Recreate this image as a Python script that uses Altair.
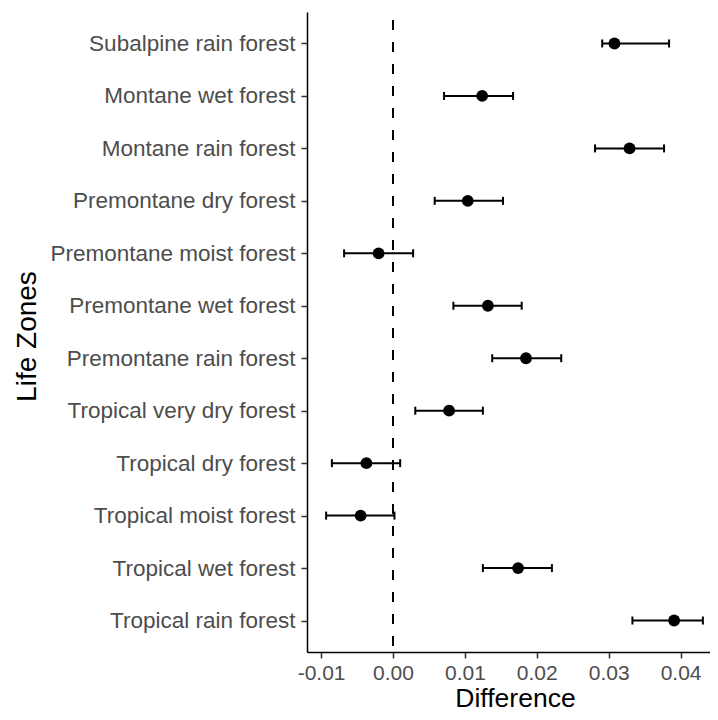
import altair as alt
import pandas as pd

zones = [
    "Subalpine rain forest",
    "Montane wet forest",
    "Montane rain forest",
    "Premontane dry forest",
    "Premontane moist forest",
    "Premontane wet forest",
    "Premontane rain forest",
    "Tropical very dry forest",
    "Tropical dry forest",
    "Tropical moist forest",
    "Tropical wet forest",
    "Tropical rain forest",
]
diff = [0.0308, 0.0124, 0.0329, 0.0104, -0.0020, 0.0132, 0.0185, 0.0078, -0.0037, -0.0045, 0.0174, 0.0391]
lower = [0.0291, 0.0071, 0.0281, 0.0058, -0.0068, 0.0084, 0.0138, 0.0031, -0.0085, -0.0093, 0.0125, 0.0333]
upper = [0.0384, 0.0167, 0.0377, 0.0153, 0.0028, 0.0179, 0.0234, 0.0125, 0.0010, 0.0002, 0.0221, 0.0431]
x_ticks = [-0.01, 0.0, 0.01, 0.02, 0.03, 0.04]

df = pd.DataFrame({"zone": zones, "diff": diff, "lo": lower, "hi": upper})
zero_df = pd.DataFrame({"x": [0.0]})

xscale = alt.Scale(domain=[-0.01196, 0.04409], nice=False, zero=False)
yscale = alt.Scale(type="point", padding=0.6, domain=zones)

xaxis = alt.Axis(
    values=x_ticks,
    labelExpr="replace(format(datum.value, '.2f'), '\u2212', '-')",
    title="Difference",
    labelPadding=4,
    labelFontSize=21,
    titleFontSize=26.5,
    titleX=208,
    titleY=54,
    titleBaseline="alphabetic",
    titleAlign="center",
)
yaxis = alt.Axis(
    title="Life Zones",
    labelPadding=6,
    labelLimit=400,
    labelFontSize=22.5,
    titleFontSize=28,
    titleAngle=-90,
    titleX=-272,
    titleY=324,
    titleBaseline="alphabetic",
    titleAlign="center",
)

base = alt.Chart(df)

y_enc = alt.Y("zone:N", scale=yscale, sort=zones, axis=yaxis)

vline = alt.Chart(zero_df).mark_rule(color="black", strokeWidth=2, strokeDash=[10, 12], strokeDashOffset=-8).encode(
    x=alt.X("x:Q", scale=xscale, axis=xaxis)
)

bars = base.mark_rule(color="black", strokeWidth=2).encode(
    x=alt.X("lo:Q", scale=xscale, axis=xaxis),
    x2="hi:Q",
    y=y_enc,
)
cap_lo = base.mark_tick(color="black", thickness=2, size=8, opacity=1).encode(
    x=alt.X("lo:Q", scale=xscale, axis=xaxis), y=y_enc
)
cap_hi = base.mark_tick(color="black", thickness=2, size=8, opacity=1).encode(
    x=alt.X("hi:Q", scale=xscale, axis=xaxis), y=y_enc
)
points = base.mark_circle(color="black", size=140, opacity=1).encode(
    x=alt.X("diff:Q", scale=xscale, axis=xaxis), y=y_enc
)

chart = alt.layer(vline, bars, cap_lo, cap_hi, points).properties(
    width=403,
    height=640,
    autosize=alt.AutoSizeParams(type="none"),
    padding={"left": 299, "top": 4, "right": 0, "bottom": 60},
).configure_view(stroke=None).configure_axis(
    grid=False,
    domainColor="black",
    domainWidth=1.5,
    tickColor="#333333",
    tickWidth=1.5,
    tickSize=6,
    labelColor="#4d4d4d",
    labelFont="Liberation Sans",
    titleFont="Liberation Sans",
    titleFontWeight="normal",
    titleColor="black",
)

chart.save("out.html", embed_options={"renderer": "svg", "actions": False})
